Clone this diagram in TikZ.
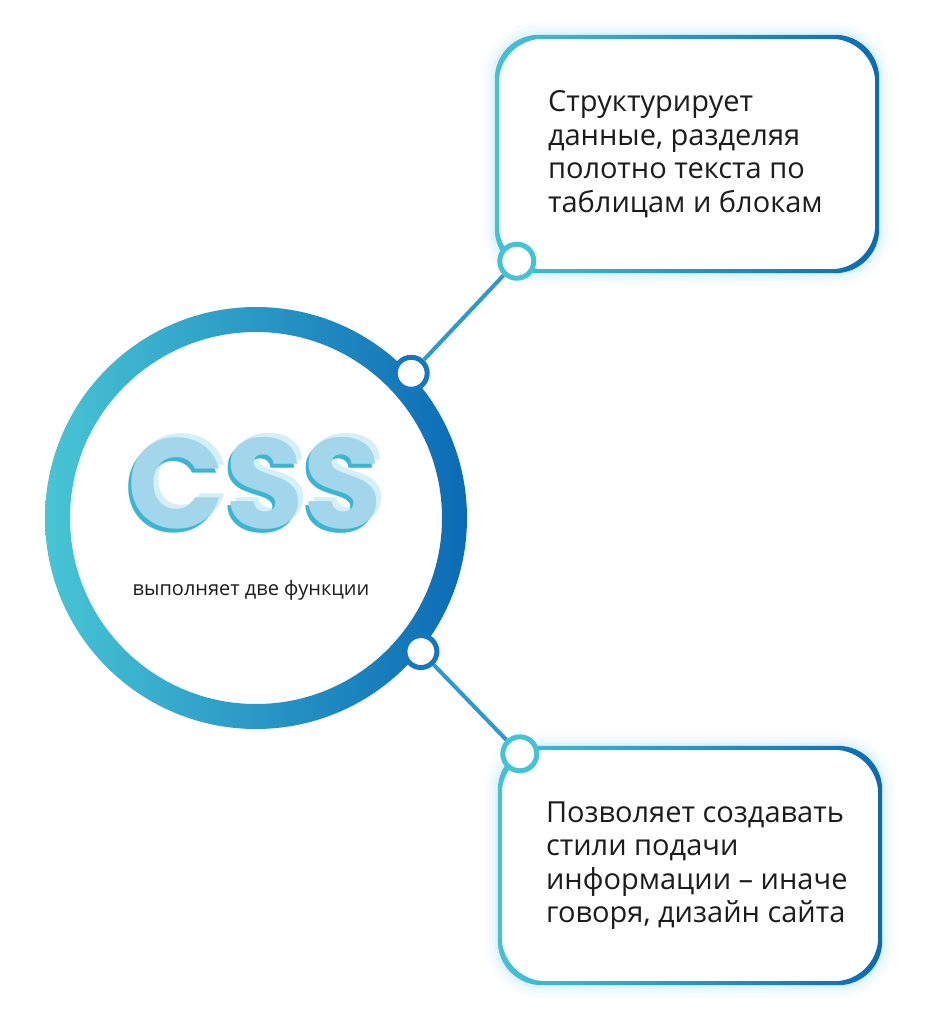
\documentclass[tikz,border=0pt]{standalone}
\usepackage{fontspec}
\setmainfont{Open Sans}
\newfontfamily\cssfont{Poppins}
\usetikzlibrary{positioning}
\definecolor{ringcyan}{HTML}{48C5D5}
\definecolor{ringmid}{HTML}{2A9ECD}
\definecolor{ringblue}{HTML}{0B6BB5}
\definecolor{linkblue}{HTML}{2B9BCB}
\definecolor{knobblue}{HTML}{1677BE}
\definecolor{knobcyan}{HTML}{45C2D4}
\definecolor{glowc}{HTML}{9FE0F0}
\definecolor{csspale}{HTML}{D5EFF7}
\definecolor{cssmain}{HTML}{A3D6EA}
\definecolor{cssdark}{HTML}{3BB6D2}
\definecolor{inktext}{HTML}{1C1C1C}
\newcommand{\csslayer}[3]{\rlap{\hspace{#1}\raisebox{#2}{\color{#3}CSS}}}
\tikzset{
  infobox/.style={rectangle, rounded corners=44pt, fill=white, inner sep=0pt,
    minimum width=384pt, minimum height=238pt},
  boxtext/.style={align=left, inner sep=0pt, text=inktext,
    font=\fontsize{29}{33.5}\selectfont},
  ringknob/.style={circle, draw=knobblue, fill=white, line width=5pt,
    inner sep=0pt, minimum size=32pt},
  boxknob/.style={circle, draw=knobcyan, fill=white, line width=5pt,
    inner sep=0pt, minimum size=34pt},
  link/.style={draw=linkblue, line width=4pt},
  cssletters/.style={font=\cssfont\bfseries\fontsize{128}{128}\selectfont, inner sep=0pt},
}
\begin{document}
\begin{tikzpicture}[x=1pt,y=-1pt]
\useasboundingbox[fill=white] (0,0) rectangle (928,1024);

% big ring
\node[circle, minimum size=424pt, inner sep=0pt] (ring) at (256,518) {};
\shade[left color=ringcyan, middle color=ringmid, right color=ringblue, even odd rule]
  (ring.center) circle (211pt) (ring.center) circle (186pt);

% CSS title
\node[cssletters] (css) at (255,483)
  {\csslayer{5pt}{4pt}{csspale}\csslayer{-3pt}{-4pt}{cssdark}\textcolor{cssmain}{CSS}};
\node[text=inktext, font=\fontsize{20}{23}\selectfont, inner sep=0pt] (cssnote) at (251,590) {выполняет две функции};

% boxes
\foreach \w/\o in {26/0.05,18/0.07,11/0.10,6/0.14} {
  \draw[glowc, opacity=\o, line width=\w pt, rounded corners=44pt] (495,35) rectangle (879,273);
  \draw[glowc, opacity=\o, line width=\w pt, rounded corners=44pt] (498,746) rectangle (882,985);
}
\node[infobox] (struct) at (687,154) {};
\node[infobox, minimum height=239pt] (design) at (690,865.5) {};
\foreach \b in {struct,design}
  \shade[left color=knobcyan, right color=ringblue, even odd rule, rounded corners=44pt]
    (\b.south west) rectangle (\b.north east)
    ([shift={(4pt,4pt)}]\b.south west) rectangle ([shift={(-4pt,-4pt)}]\b.north east);

\node[boxtext, right=53pt of struct.west] (structtext)
  {Структурирует\\данные, разделяя\\полотно текста по\\таблицам и блокам};
\node[boxtext, right=48pt of design.west] (designtext)
  {Позволяет создавать\\стили подачи\\информации -- иначе\\говоря, дизайн сайта};

% knobs and links
\node[ringknob] (upknob) at (ring.43.5) {};
\node[ringknob] (downknob) at (ring.-39) {};
\node[boxknob] (structknob) at ([shift={(22pt,12pt)}]struct.south west) {};
\node[boxknob] (designknob) at ([shift={(22pt,-8pt)}]design.north west) {};
\draw[link] (upknob) -- (structknob);
\draw[link] (downknob) -- (designknob);
\end{tikzpicture}
\end{document}
